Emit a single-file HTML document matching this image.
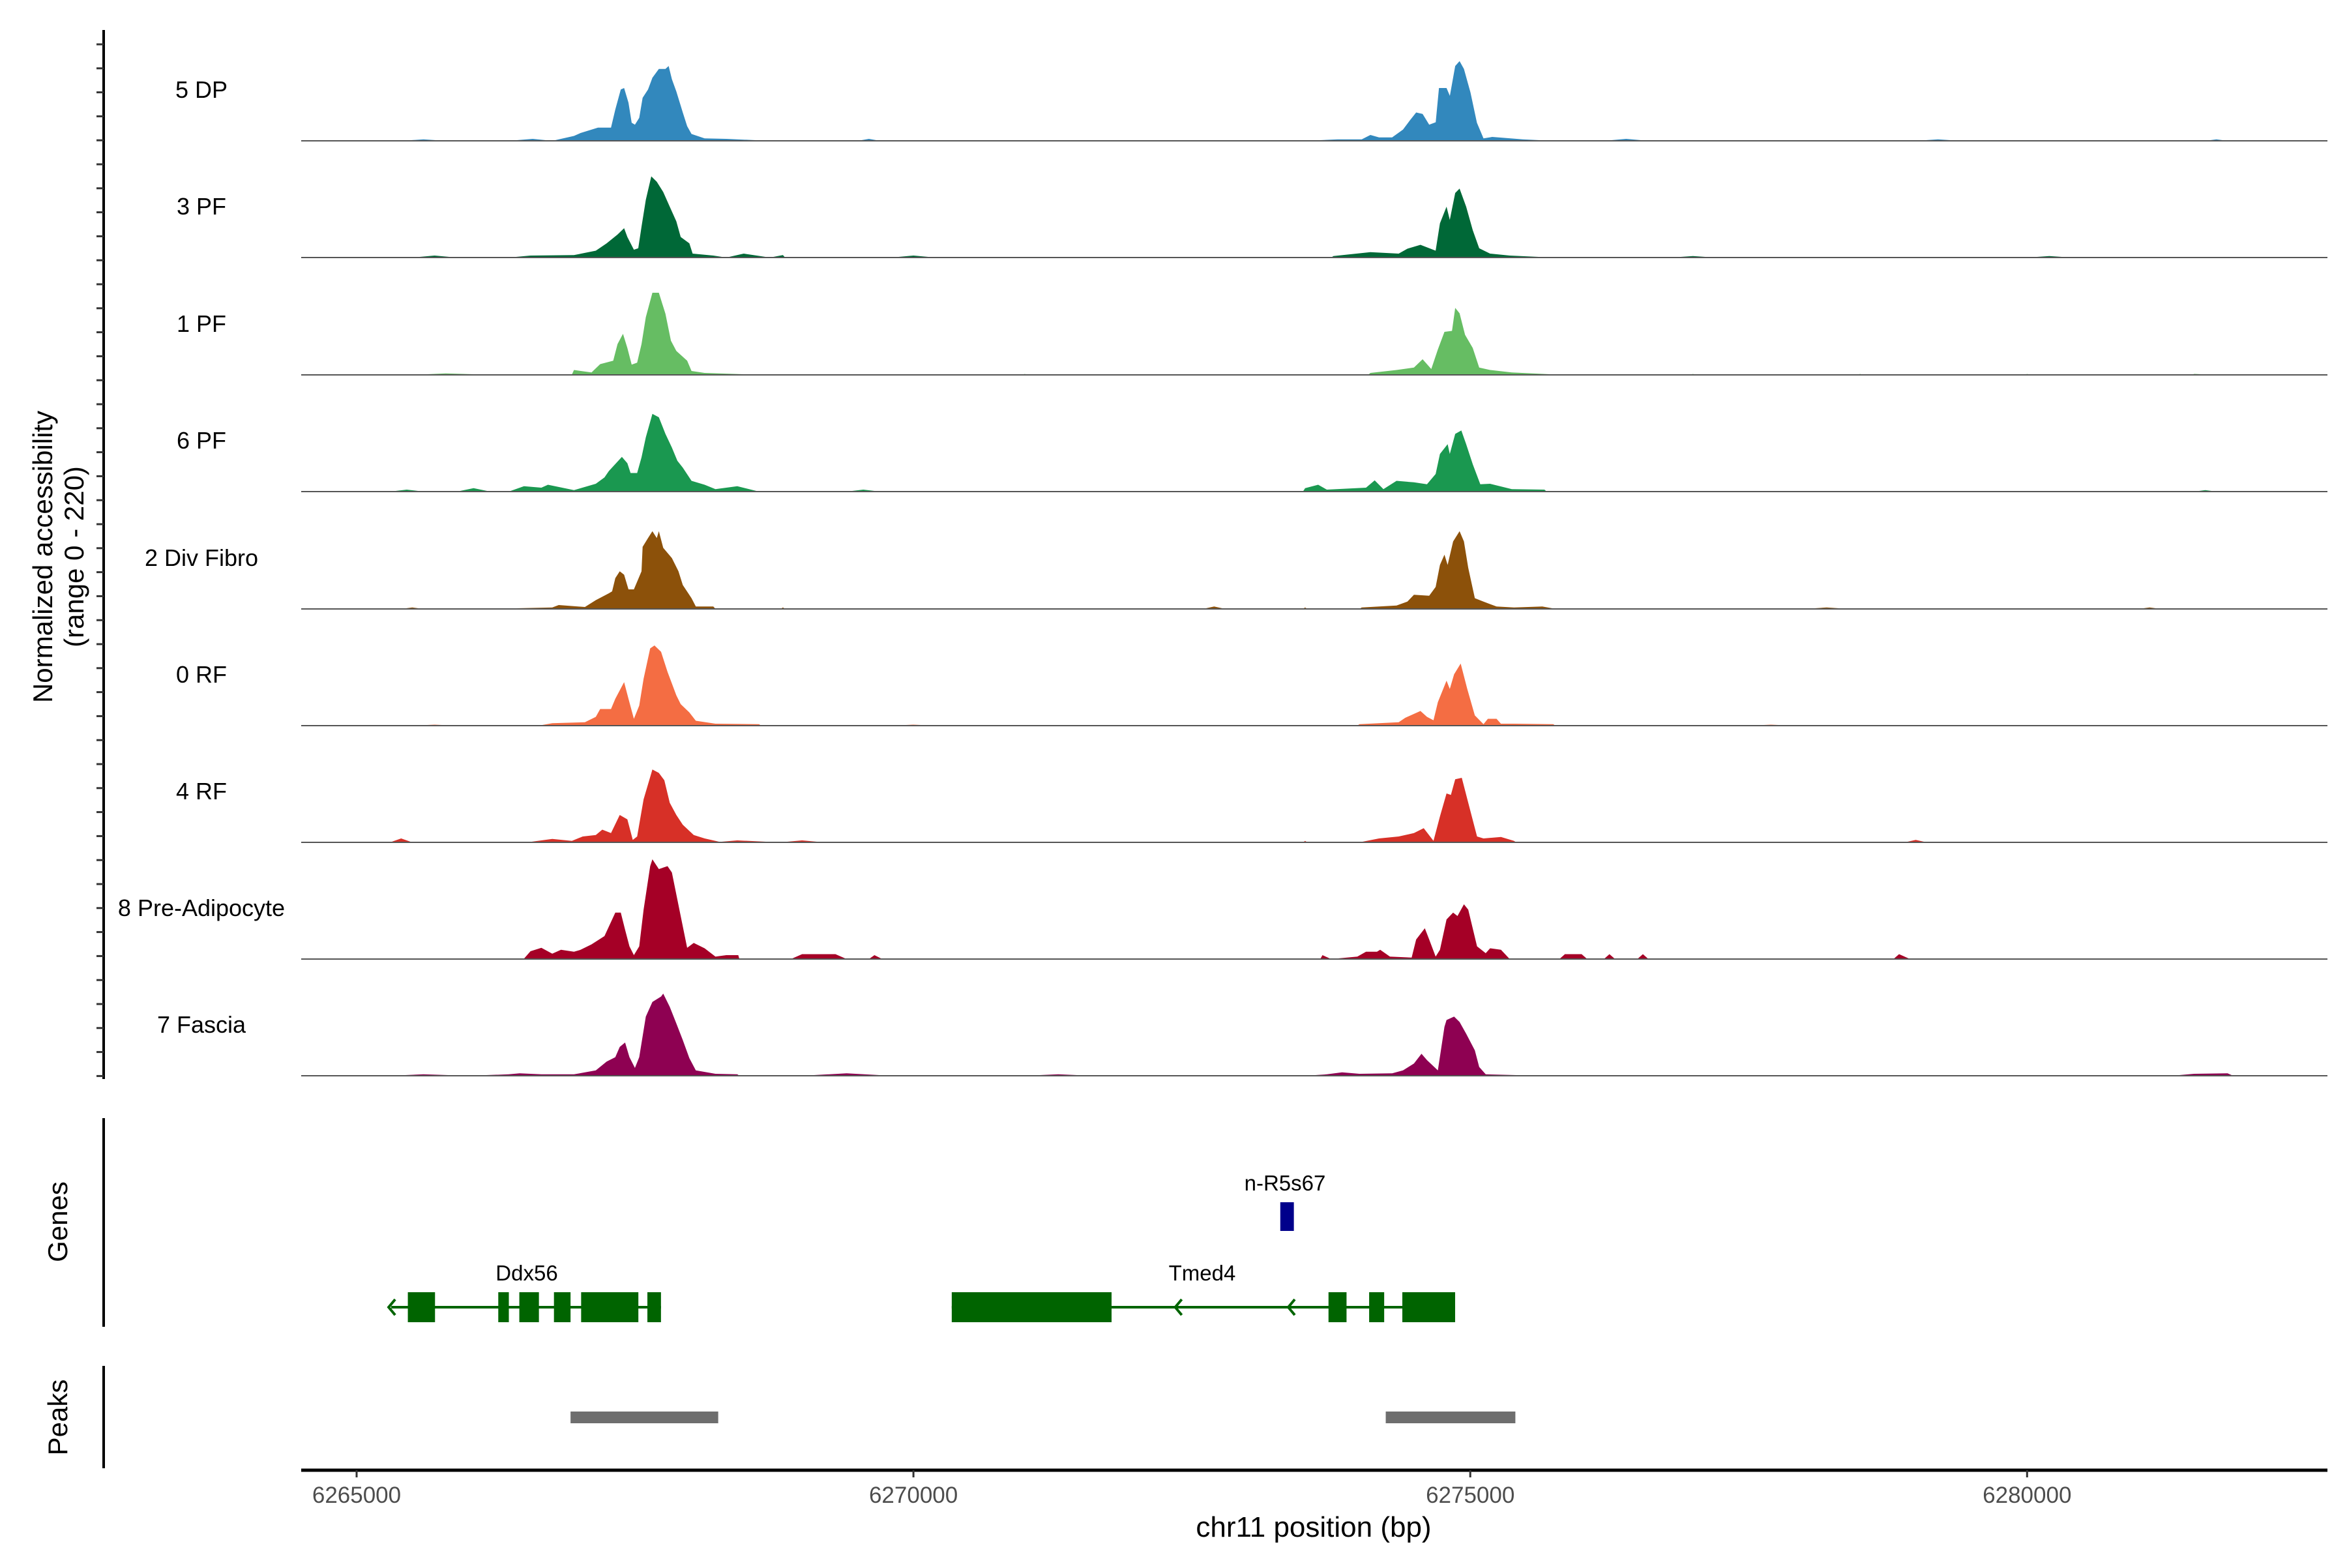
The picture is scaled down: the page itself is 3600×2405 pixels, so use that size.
<!DOCTYPE html>
<html><head><meta charset="utf-8"><style>
html,body{margin:0;padding:0;background:#fff;}
svg text{font-family:"Liberation Sans",sans-serif;}
</style></head><body>
<svg id="chart" width="3600" height="2400" viewBox="0 0 3600 2400" xmlns="http://www.w3.org/2000/svg">
<rect width="3600" height="2400" fill="#fff"/>
<g id="tracks"></g>
<g id="leftaxis"></g>
<text transform="translate(80,854) rotate(-90)" text-anchor="middle" font-size="42" fill="#000">Normalized accessibility</text>
<text transform="translate(128,854) rotate(-90)" text-anchor="middle" font-size="42" fill="#000">(range 0 - 220)</text>
<line x1="159" y1="1715" x2="159" y2="2035" stroke="#000" stroke-width="4"/>
<text transform="translate(103,1874) rotate(-90)" text-anchor="middle" font-size="42">Genes</text>
<line x1="159" y1="2095" x2="159" y2="2252" stroke="#000" stroke-width="4"/>
<text transform="translate(103,2174) rotate(-90)" text-anchor="middle" font-size="42">Peaks</text>
<g id="genes"></g>
<g id="peaks"></g>
<g id="xaxis"></g>
<text x="2015" y="2357" text-anchor="middle" font-size="44">chr11 position (bp)</text>
</svg>
<script>
const trackNames = ["5 DP","3 PF","1 PF","6 PF","2 Div Fibro","0 RF","4 RF","8 Pre-Adipocyte","7 Fascia"];
const trackColors = ["#3288bd","#006837","#66bd63","#1a9850","#8c510a","#f46d43","#d73027","#a50026","#8e0152"];
const xTicks = [6265000,6270000,6275000,6280000];

const t1Pos = [6266366,6266581,6266757,6266952,6267011,6267167,6267284,6267323,6267372,6267402,6267441,6267470,6267499,6267538,6267568,6267617,6267656,6267714,6267773,6267802,6267831,6267871,6267929,6267968,6268007,6268125,6268320,6268711,
 6273517,6273810,6274025,6274103,6274181,6274298,6274396,6274455,6274514,6274572,6274631,6274690,6274719,6274787,6274817,6274865,6274904,6274943,6275002,6275060,6275119,6275197,6275471,6275745,
 6265400,6265600,6265800,6269500,6269600,6269700,6276200,6276400,6276600,6279000,6279200,6279400,6281600,6281700,6281800];
const t1Val = [0,4,0,10,16,27,27,64,105,108,78,37,33,47,88,105,129,147,147,153,126,101,58,30,14,5,4,0,
 0,3,3,12,7,7,23,41,58,55,33,38,108,108,92,153,163,147,99,37,5,8,3,0,
 0,3,0,0,4,0,0,4,0,0,3,0,0,3,0];

const t2Pos = [6266366,6266561,6266952,6267148,6267245,6267343,6267402,6267431,6267490,6267529,6267558,6267597,6267646,6267695,6267753,6267812,6267871,6267910,6267988,6268017,6268203,6268320,6268476,6268711,6268828,
 6273771,6274103,6274357,6274435,6274553,6274689,6274728,6274787,6274816,6274865,6274904,6274963,6275022,6275080,6275178,6275354,6275745,
 6265500,6265700,6265900,6269800,6270000,6270200,6276800,6277000,6277200,6280000,6280200,6280400];
const t2Val = [0,4,5,14,29,47,60,42,16,19,63,118,166,155,134,104,74,42,29,8,4,0,8,0,5,
 3,11,8,18,26,14,70,104,77,132,141,104,56,19,8,4,0,
 0,4,0,0,4,0,0,3,0,0,3,0];

const t3Pos = [6266366,6266952,6267109,6267187,6267304,6267343,6267392,6267431,6267470,6267519,6267558,6267597,6267656,6267714,6267773,6267822,6267871,6267968,6268007,6268125,6268515,
 6273517,6274103,6274338,6274494,6274572,6274650,6274709,6274768,6274836,6274865,6274904,6274953,6275022,6275080,6275178,6275373,6275745,
 6265500,6265800,6266100,6270500,6271000,6271500,6277000,6278500,6280000,6281500,6281700];
const t3Val = [1,10,5,22,29,63,84,55,21,25,63,118,168,168,125,70,49,29,8,4,1,
 1,4,10,15,32,12,52,88,90,137,126,82,55,15,10,5,1,
 0,3,1,1,2,1,2,2,2,2,0];

const t4Pos = [6266366,6266503,6266659,6266718,6266952,6267148,6267226,6267265,6267382,6267431,6267460,6267519,6267558,6267597,6267656,6267714,6267773,6267831,6267880,6267929,6268007,6268125,6268222,6268418,6268613,
 6273517,6273634,6273712,6274064,6274142,6274220,6274338,6274494,6274611,6274689,6274728,6274797,6274816,6274865,6274920,6274963,6275022,6275090,6275178,6275373,6275666,
 6265300,6265450,6265600,6265900,6266050,6266200,6269400,6269550,6269700,6281500,6281600,6281700];
const t4Val = [0,11,8,14,3,16,29,42,71,58,38,38,70,111,159,152,118,90,63,49,22,14,5,11,0,
 7,14,4,8,23,5,22,19,15,36,77,97,77,118,125,97,56,15,16,5,4,
 0,4,0,0,7,0,0,4,0,0,3,0];

const t5Pos = [6266366,6266757,6266815,6267050,6267148,6267265,6267294,6267323,6267363,6267402,6267441,6267490,6267558,6267568,6267617,6267656,6267695,6267714,6267753,6267831,6267890,6267929,6268007,6268046,6268203,6268828,
 6273517,6274025,6274338,6274435,6274494,6274631,6274689,6274728,6274768,6274797,6274846,6274904,6274943,6274982,6275041,6275119,6275236,6275393,6275647,6275745,
 6265400,6265500,6265600,6272600,6272700,6272800,6278000,6278200,6278400,6281000,6281100,6281200];
const t5Val = [1,3,8,4,18,32,36,63,77,70,40,40,77,127,145,159,145,159,125,104,77,49,22,5,5,3,
 3,3,7,15,29,27,45,90,111,90,138,159,138,84,22,15,5,3,5,1,
 0,3,0,0,5,0,0,3,0,0,3,0];

const t6Pos = [6266366,6266659,6266757,6267050,6267148,6267187,6267284,6267323,6267402,6267441,6267490,6267538,6267577,6267636,6267675,6267734,6267792,6267871,6267910,6267988,6268046,6268222,6268613,
 6273517,6274005,6274357,6274416,6274553,6274611,6274670,6274709,6274787,6274816,6274855,6274914,6274973,6275041,6275119,6275158,6275236,6275275,6275393,6275745,
 6265500,6265700,6265900,6269800,6270000,6270200,6277500,6277700,6277900];
const t6Val = [1,1,5,7,18,34,34,55,89,55,14,41,96,158,164,151,110,62,44,27,10,4,3,
 1,3,7,16,30,18,11,48,92,75,105,127,75,21,3,14,14,4,4,3,
 0,2,0,0,2,0,0,2,0];

const t7Pos = [6266561,6266757,6266933,6267030,6267148,6267206,6267284,6267363,6267431,6267480,6267519,6267577,6267656,6267714,6267763,6267812,6267871,6267929,6268027,6268125,6268261,6268418,
 6273517,6274025,6274181,6274357,6274494,6274582,6274670,6274728,6274787,6274826,6274865,6274924,6274982,6275061,6275119,6275276,6275393,
 6265300,6265400,6265500,6268800,6269000,6269200,6278900,6279000,6279100];
const t7Val = [1,7,3,12,15,26,19,56,47,5,12,88,149,142,127,81,56,36,15,8,1,4,
 3,1,8,12,19,29,3,53,100,97,129,132,81,12,8,11,3,
 0,8,0,0,4,0,0,5,0];

const t8Pos = [6266561,6266659,6266757,6266835,6266952,6267011,6267109,6267226,6267323,6267372,6267411,6267450,6267490,6267538,6267577,6267636,6267656,6267714,6267792,6267831,6267910,6267968,6268027,6268125,6268222,6268320,6268427,6268437,
 6273673,6273751,6273986,6274064,6274162,6274191,6274279,6274474,6274514,6274592,6274631,6274689,6274728,6274787,6274846,6274885,6274943,6274982,6275061,6275139,6275178,6275276,6275354,
 6266500,6268900,6269000,6269300,6269400,6269600,6269650,6269720,6275800,6275850,6276000,6276050,6276200,6276250,6276300,6276500,6276550,6276600,6278800,6278850,6278950];
const t8Val = [16,23,11,19,15,19,30,47,95,95,60,26,8,26,101,190,204,184,190,177,88,23,33,22,5,8,8,0,
 8,0,5,15,15,19,5,3,40,63,40,5,19,81,95,88,112,101,26,12,22,19,0,
 0,0,10,10,0,0,8,0,0,10,10,0,0,10,0,0,10,0,0,10,0];

const t9Pos = [6266366,6266464,6266659,6266952,6267148,6267245,6267323,6267363,6267411,6267450,6267499,6267538,6267597,6267656,6267734,6267753,6267812,6267871,6267929,6267988,6268046,6268222,6268418,
 6273517,6273712,6273849,6274005,6274299,6274396,6274494,6274562,6274611,6274709,6274768,6274787,6274855,6274904,6274963,6275041,6275080,6275139,6275471,
 6265300,6265600,6266000,6269000,6269400,6269800,6271000,6271300,6271600,6281300,6281500,6281800,6281850];
const t9Val = [3,5,3,3,11,29,38,59,68,38,16,38,121,151,162,168,141,107,73,36,11,4,3,
 0,3,7,4,5,11,25,45,32,11,100,114,121,110,86,52,18,3,1,
 0,3,0,0,5,0,0,3,0,0,4,5,0];

const trackPos = [t1Pos,t2Pos,t3Pos,t4Pos,t5Pos,t6Pos,t7Pos,t8Pos,t9Pos];
const trackVal = [t1Val,t2Val,t3Val,t4Val,t5Val,t6Val,t7Val,t8Val,t9Val];

const geneNames = ["Ddx56","Tmed4","n-R5s67"];
const geneStarts = [6265311,6270344,6273294];
const geneEnds = [6267733,6274864,6273416];
const ddxExonStart = [6265460,6266272,6266461,6266772,6267016,6267611];
const ddxExonEnd = [6265704,6266367,6266637,6266921,6267530,6267733];
const tmedExonStart = [6270344,6273727,6274092,6274390];
const tmedExonEnd = [6271779,6273889,6274227,6274864];
const tmedArrows = [6272374,6273389,6274420];
const ddxArrows = [6265311,6266320];
const peakStarts = [6266921,6274241];
const peakEnds = [6268247,6275405];

const NS="http://www.w3.org/2000/svg";
const X0=462, X1=3570;
function xs(bp){return 547+(bp-6265000)*0.17082;}
const baselines=[216,395,575,754,934,1113,1292,1471,1650];
function ys(i,v){return baselines[i]-v*0.75;}
function mk(tag,attrs,parent){const e=document.createElementNS(NS,tag);for(const k in attrs)e.setAttribute(k,attrs[k]);parent.appendChild(e);return e;}

const tg=document.getElementById('tracks');
for(let i=0;i<9;i++){
  const pts=trackPos[i].map((p,j)=>[p,trackVal[i][j]]).sort((a,b)=>a[0]-b[0]);
  const b=baselines[i];
  let d="M"+xs(pts[0][0]).toFixed(1)+","+b;
  for(let j=0;j<pts.length;j++){
    const p=pts[j];
    if(j>0 && p[0]-pts[j-1][0]>400){
      d+=" L"+xs(pts[j-1][0]+20).toFixed(1)+","+b+" L"+xs(p[0]-20).toFixed(1)+","+b;
    }
    d+=" L"+xs(p[0]).toFixed(1)+","+ys(i,p[1]).toFixed(1);
  }
  d+=" L"+xs(pts[pts.length-1][0]).toFixed(1)+","+b+" Z";
  const a=mk('path',{d:d,fill:trackColors[i]},tg);
  
  
  const l=mk('line',{x1:X0,x2:X1,y1:b,y2:b,stroke:"#555","stroke-width":2},tg);
  
  
  const t=mk('text',{x:309,y:b-66,"text-anchor":"middle","font-size":36,fill:"#000"},tg);
  t.textContent=trackNames[i];
  
  
}
const la=document.getElementById('leftaxis');
mk('line',{x1:159,y1:46,x2:159,y2:1655,stroke:"#000","stroke-width":4},la);
for(let y=68;y<=1652;y+=36.8){
  const tk=mk('line',{x1:148,x2:159,y1:y.toFixed(1),y2:y.toFixed(1),stroke:"#333","stroke-width":3},la);
  
  
}
const gg=document.getElementById('genes');
const GREEN="#006400", GY=2005;
function exonRects(starts,ends){
  for(let k=0;k<starts.length;k++){
    const r=mk('rect',{x:xs(starts[k]),y:GY-23,width:xs(ends[k])-xs(starts[k]),height:46,fill:GREEN},gg);
    
    
  }
}
function chevron(bp,y,col){
  const x=xs(bp);
  const c=mk('path',{d:`M${x+6},${y-12} L${x-4},${y} L${x+6},${y+12}`,fill:"none",stroke:col,"stroke-width":4},gg);
  
  
}
[0,1].forEach(g=>{
  const ln=mk('line',{x1:xs(geneStarts[g]),x2:xs(geneEnds[g]),y1:GY,y2:GY,stroke:GREEN,"stroke-width":4},gg);
  
  
});
exonRects(ddxExonStart,ddxExonEnd);
exonRects(tmedExonStart,tmedExonEnd);
ddxArrows.forEach(b=>chevron(b,GY,GREEN));
tmedArrows.forEach(b=>chevron(b,GY,GREEN));
const nr=mk('rect',{x:xs(geneStarts[2]),y:1844,width:xs(geneEnds[2])-xs(geneStarts[2]),height:44,fill:"#00008b"},gg);


const labelX=[808,1844,1971], labelY=[1964,1964,1826];
for(let g=0;g<3;g++){
  const t=mk('text',{x:labelX[g],y:labelY[g],"text-anchor":"middle","font-size":33,fill:"#000"},gg);
  t.textContent=geneNames[g];
  
  
}
const pg=document.getElementById('peaks');
for(let k=0;k<peakStarts.length;k++){
  const r=mk('rect',{x:xs(peakStarts[k]),y:2165,width:xs(peakEnds[k])-xs(peakStarts[k]),height:18,fill:"#6e6e6e"},pg);
  
  
}
const xa=document.getElementById('xaxis');
mk('line',{x1:X0,x2:X1,y1:2255,y2:2255,stroke:"#000","stroke-width":5},xa);
xTicks.forEach(v=>{
  const x=xs(v);
  const tk=mk('line',{x1:x,x2:x,y1:2255,y2:2266,stroke:"#333","stroke-width":3},xa);
  
  
  const t=mk('text',{x:x,y:2305,"text-anchor":"middle","font-size":35,fill:"#4d4d4d"},xa);
  t.textContent=v;
  
  
});
</script>
</body></html>
